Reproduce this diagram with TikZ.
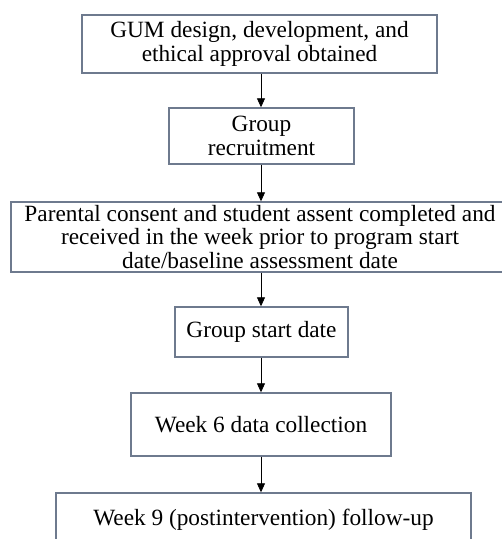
\documentclass[tikz,border=0pt]{standalone}
\usepackage{fontspec}
\setmainfont{Liberation Serif}
\usetikzlibrary{arrows.meta}
\definecolor{boxline}{RGB}{110,122,142}
\begin{document}
\begin{tikzpicture}[x=1pt,y=-1pt,
  flowbox/.style={draw=boxline, line width=1.4pt, fill=white, rectangle, align=center,
    inner sep=0pt, font=\fontsize{23.3}{23.5}\selectfont},
  arr/.style={draw=black, line width=0.8pt, -{Triangle[width=8pt,length=9pt]}}]
\useasboundingbox (0,0) rectangle (502,539);
\clip (0,0) rectangle (502,539);
\node[flowbox, minimum width=355pt, minimum height=58pt] (b1) at (259.5,44)
  {GUM design, development, and\\ethical approval obtained};
\node[flowbox, minimum width=185pt, minimum height=56pt] (b2) at (261.5,136)
  {Group\\recruitment};
\node[flowbox, minimum width=498pt, minimum height=70pt] (b3) at (260,237)
  {Parental consent and student assent completed and\\received in the week prior to program start\\date/baseline assessment date};
\node[flowbox, minimum width=173pt, minimum height=50pt] (b4) at (261.5,332)
  {Group start date};
\node[flowbox, minimum width=260pt, minimum height=63pt] (b5) at (261,424.5)
  {Week 6 data collection};
\node[flowbox, minimum width=415pt, minimum height=54pt] (b6) at (263.5,520)
  {Week 9 (postintervention) follow-up};
\coordinate (x1) at (261,0);
\draw[arr] (b1.south -| x1) -- (b2.north -| x1);
\draw[arr] (b2.south -| x1) -- (b3.north -| x1);
\draw[arr] (b3.south -| x1) -- (b4.north -| x1);
\draw[arr] (b4.south -| x1) -- (b5.north -| x1);
\draw[arr] (b5.south -| x1) -- (b6.north -| x1);
\end{tikzpicture}
\end{document}
